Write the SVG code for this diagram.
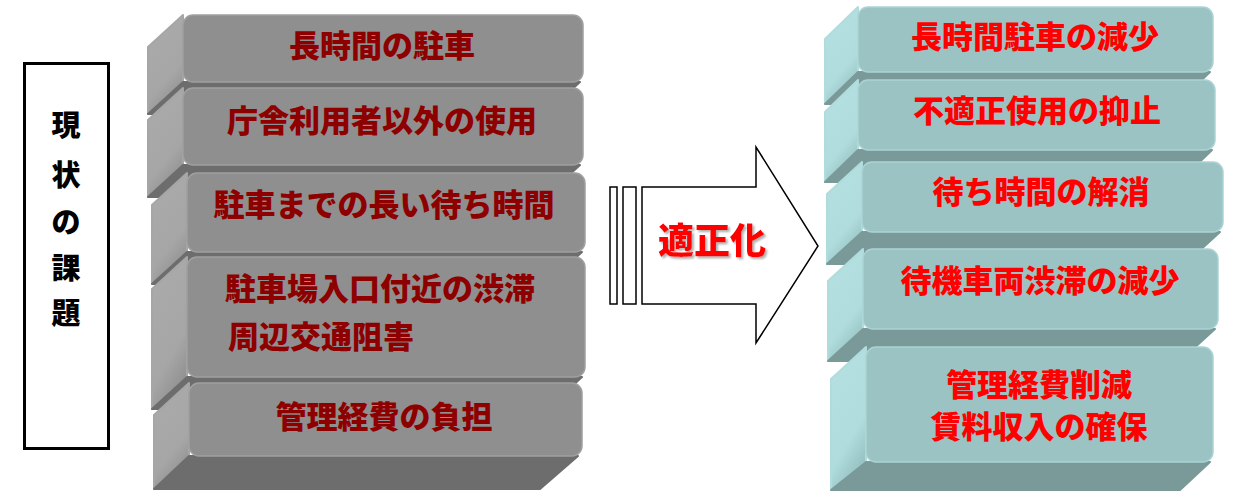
<svg xmlns="http://www.w3.org/2000/svg" width="1240" height="493" viewBox="0 0 1240 493">
<defs>
<style>
.jp{font-family:"Noto Sans CJK JP","Noto Sans CJK SC",sans-serif;font-weight:900;}
.gs{fill:url(#gSide);stroke:#a6a6a6;stroke-width:2;stroke-linejoin:round;}
.gb{fill:#6d6d6d;stroke:#6d6d6d;stroke-width:2;stroke-linejoin:round;}
.gf{fill:#8f8f8f;stroke:#a0a0a0;stroke-width:1.5;}
.gt{fill:#8e0000;font-size:31px;}
.ts{fill:url(#tSide);stroke:#b0dcdd;stroke-width:2;stroke-linejoin:round;}
.tb{fill:#7a9a99;stroke:#7a9a99;stroke-width:2;stroke-linejoin:round;}
.tf{fill:#9cc3c3;stroke:#acd3d3;stroke-width:1.5;}
.tt{fill:#ff0000;font-size:31px;}
</style>
<linearGradient id="gSide" x1="0" y1="0" x2="0.4" y2="1">
<stop offset="0" stop-color="#ababab"/>
<stop offset="0.75" stop-color="#a6a6a6"/>
<stop offset="1" stop-color="#939393"/>
</linearGradient>
<linearGradient id="tSide" x1="0" y1="0" x2="0.4" y2="1">
<stop offset="0" stop-color="#b5e1e2"/>
<stop offset="0.75" stop-color="#b0dcdd"/>
<stop offset="1" stop-color="#98c4c4"/>
</linearGradient>
<filter id="shadow" x="-10%" y="-10%" width="130%" height="140%">
<feDropShadow dx="2" dy="2" stdDeviation="1" flood-color="#999999" flood-opacity="0.8"/>
</filter>
</defs>
<rect width="1240" height="493" fill="#ffffff"/>

<g id="label-genjo">
<rect x="24.5" y="63.5" width="84" height="385" fill="#ffffff" stroke="#000000" stroke-width="3"/>
<g class="jp" font-size="29" fill="#000000" text-anchor="middle">
<text x="66" y="136">現</text>
<text x="66" y="186">状</text>
<text x="66" y="233">の</text>
<text x="66" y="279">課</text>
<text x="66" y="324">題</text>
</g>
</g>

<g id="left-1">
<polygon class="gs" points="183,15 148,47 148,114 183,82"/>
<polygon class="gb" points="183,82 580,82 545,114 148,114"/>
<rect class="gf" x="183" y="15" width="400" height="67" rx="10"/>
<text class="jp gt" x="382" y="56.5" text-anchor="middle">長時間の駐車</text>
</g>
<g id="left-2">
<polygon class="gs" points="183,88 148,120 148,197 183,165"/>
<polygon class="gb" points="183,165 580,165 545,197 148,197"/>
<rect class="gf" x="183" y="88" width="400" height="77" rx="10"/>
<text class="jp gt" x="382" y="131.5" text-anchor="middle">庁舎利用者以外の使用</text>
</g>
<g id="left-3">
<polygon class="gs" points="187,173 152,205 152,284 187,252"/>
<polygon class="gb" points="187,252 582,252 547,284 152,284"/>
<rect class="gf" x="187" y="173" width="398" height="79" rx="10"/>
<text class="jp gt" x="384" y="216" text-anchor="middle">駐車までの長い待ち時間</text>
</g>
<g id="left-4">
<polygon class="gs" points="187,257 152,289 152,409 187,377"/>
<polygon class="gb" points="187,377 582,377 547,409 152,409"/>
<rect class="gf" x="187" y="257" width="398" height="120" rx="10"/>
<text class="jp gt" x="225" y="300">駐車場入口付近の渋滞</text>
<text class="jp gt" x="228" y="348">周辺交通阻害</text>
</g>
<g id="left-5">
<polygon class="gs" points="189,383 154,415 154,489 189,456"/>
<polygon class="gb" points="189,456 578,456 540,489 154,489"/>
<rect class="gf" x="189" y="383" width="393" height="73" rx="10"/>
<text class="jp gt" x="384" y="428" text-anchor="middle">管理経費の負担</text>
</g>

<g id="connectors">
<g id="arrow-tekiseika">
<rect x="610" y="187" width="7" height="117" fill="#ffffff" stroke="#000000" stroke-width="1.5"/>
<rect x="623" y="187" width="13" height="117" fill="#ffffff" stroke="#000000" stroke-width="1.5"/>
<polygon points="642,187 756,187 756,147 818,246 756,343 756,304 642,304" fill="#ffffff" stroke="#000000" stroke-width="1.5" stroke-linejoin="miter"/>
<text class="jp" x="712" y="253.5" font-size="36" fill="#ff0000" text-anchor="middle" filter="url(#shadow)">適正化</text>
</g>
</g>

<g id="right-1">
<polygon class="ts" points="858,7 825,39 825,104 858,72"/>
<polygon class="tb" points="858,72 1210,72 1177,104 825,104"/>
<rect class="tf" x="858" y="7" width="355" height="65" rx="10"/>
<text class="jp tt" x="1035" y="48" text-anchor="middle">長時間駐車の減少</text>
</g>
<g id="right-2">
<polygon class="ts" points="858,80 825,112 825,182 858,150"/>
<polygon class="tb" points="858,150 1212,150 1179,182 825,182"/>
<rect class="tf" x="858" y="80" width="357" height="70" rx="10"/>
<text class="jp tt" x="1037" y="121.5" text-anchor="middle">不適正使用の抑止</text>
</g>
<g id="right-3">
<polygon class="ts" points="862,162 827,194 827,264 862,232"/>
<polygon class="tb" points="862,232 1220,232 1185,264 827,264"/>
<rect class="tf" x="862" y="162" width="361" height="70" rx="10"/>
<text class="jp tt" x="1041" y="203" text-anchor="middle">待ち時間の解消</text>
</g>
<g id="right-4">
<polygon class="ts" points="863,249 828,281 828,361 863,329"/>
<polygon class="tb" points="863,329 1215,329 1180,361 828,361"/>
<rect class="tf" x="863" y="249" width="355" height="80" rx="10"/>
<text class="jp tt" x="1040" y="291.5" text-anchor="middle">待機車両渋滞の減少</text>
</g>
<g id="right-5">
<polygon class="ts" points="866,347 831,379 831,490 866,462"/>
<polygon class="tb" points="866,462 1210,462 1180,490 831,490"/>
<rect class="tf" x="866" y="347" width="347" height="115" rx="10"/>
<text class="jp tt" x="1039" y="396" text-anchor="middle">管理経費削減</text>
<text class="jp tt" x="1039" y="438" text-anchor="middle">賃料収入の確保</text>
</g>
</svg>
